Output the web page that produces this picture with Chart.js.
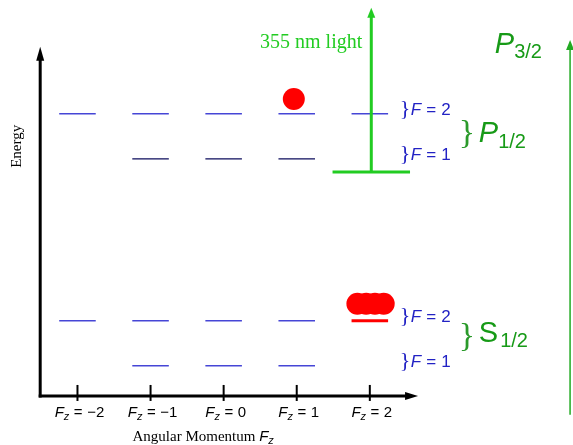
<!DOCTYPE html>
<html>
<head>
<meta charset="utf-8">
<script src="https://cdn.jsdelivr.net/npm/chart.js@4"></script>
<style>
  html, body { margin: 0; padding: 0; background: #fff; }
  canvas { display: block; }
</style>
</head>
<body>
<canvas id="chart" width="573" height="445"></canvas>
<script>
// angular momentum projections and their tick labels
const fzValues = [-2, -1, 0, 1, 2];
const tickLabels = ['\u22122', '\u22121', '0', '1', '2'];

// energies of the hyperfine levels (arbitrary units)
const energyP_F2 = 6.6;
const energyP_F1 = 5.6;
const energyS_F2 = 2.0;
const energyS_F1 = 1.0;

// which Fz sublevels get drawn for each level
const fzP_F2 = [-2, -1, 0, 1, 2];
const fzP_F1 = [-1, 0, 1];
const fzS_F2 = [-2, -1, 0, 1];
const fzS_F2_dark = [2];
const fzS_F1 = [-1, 0, 1];

// atoms: one excited, a pile sitting in the dark state
const atomsExcited = [{x: 0.96, y: 6.93}];
const atomsGround = [
  {x: 1.83, y: 2.38}, {x: 1.95, y: 2.38}, {x: 2.07, y: 2.38}, {x: 2.19, y: 2.38}
];

// 355 nm laser
const laserFz = 2.02;
const laserFrom = 5.31;
const laserTo = 8.96;
const laserBarHalf = 0.53;

// axes
const axisOrigin = {x: -2.51, y: 0.33};
const axisXEnd = 2.66;
const axisYEnd = 8.09;

// long arrow up to P3/2
const p32Fz = 4.74;
const p32From = -0.09;
const p32To = 8.24;

const halfWidth = 0.25;
const blue = '#4646d6';
const navy = '#0c0c5c';
const textBlue = '#2222c4';
const termGreen = '#179a17';
const laserGreen = '#22cc22';

function segments(fzList, energy) {
  const pts = [];
  fzList.forEach(fz => {
    pts.push({x: fz - halfWidth, y: energy}, {x: fz + halfWidth, y: energy}, {x: fz, y: null});
  });
  return pts;
}

function levelSet(fzList, energy, color, width) {
  return {
    data: segments(fzList, energy),
    showLine: true, spanGaps: false,
    borderColor: color, borderWidth: width,
    pointRadius: 0, borderCapStyle: 'butt'
  };
}

function arrowHead(ctx, tx, ty, dx, dy, len, wid, color) {
  const bx = tx - dx * len, by = ty - dy * len;
  const nx = -dy, ny = dx;
  ctx.fillStyle = color;
  ctx.beginPath();
  ctx.moveTo(tx, ty);
  ctx.lineTo(bx + nx * wid / 2, by + ny * wid / 2);
  ctx.lineTo(bx - nx * wid / 2, by - ny * wid / 2);
  ctx.closePath();
  ctx.fill();
}

function line(ctx, x1, y1, x2, y2, color, w, cap) {
  ctx.strokeStyle = color;
  ctx.lineWidth = w;
  ctx.lineCap = cap || 'butt';
  ctx.beginPath();
  ctx.moveTo(x1, y1);
  ctx.lineTo(x2, y2);
  ctx.stroke();
}

function drawRuns(ctx, x, y, runs, align) {
  let total = 0;
  runs.forEach(r => {
    ctx.font = r.font;
    r.w = ctx.measureText(r.t).width;
    total += (r.pre || 0) + r.w + (r.post || 0);
  });
  let cx = align === 'center' ? x - total / 2 : align === 'right' ? x - total : x;
  runs.forEach(r => {
    cx += r.pre || 0;
    ctx.font = r.font;
    ctx.fillStyle = r.color;
    ctx.fillText(r.t, cx, y + (r.dy || 0));
    cx += r.w + (r.post || 0);
  });
}

const sans = '"Liberation Sans", Arial, sans-serif';
const serif = '"Liberation Serif", "Times New Roman", serif';

function mathF(size, color, withSub, val) {
  const runs = [{t: 'F', font: `italic ${size}px ${sans}`, color}];
  if (withSub) runs.push({t: 'z', font: `italic ${Math.round(size * 0.72)}px ${sans}`, color, dy: size * 0.22});
  runs.push({t: '=', font: `${size}px ${sans}`, color, pre: size * 0.3, post: size * 0.3});
  runs.push({t: val, font: `${size}px ${sans}`, color});
  return runs;
}

function term(letter, sub, size, color, style) {
  return [
    {t: letter, font: `${style} ${size}px ${sans}`, color, post: style === 'italic' ? 0 : 2},
    {t: sub, font: `${Math.round(size * 0.7)}px ${sans}`, color, dy: size * 0.18}
  ];
}

const diagram = {
  id: 'diagram',
  afterDatasetsDraw(chart) {
    const ctx = chart.ctx;
    const px = v => chart.scales.x.getPixelForValue(v);
    const py = v => chart.scales.y.getPixelForValue(v);
    ctx.save();
    ctx.textBaseline = 'alphabetic';
    ctx.textAlign = 'left';

    // axes with arrows
    const ox = px(axisOrigin.x), oy = py(axisOrigin.y);
    line(ctx, ox, oy + 1.5, ox, py(axisYEnd) + 12, '#000', 3);
    arrowHead(ctx, ox, py(axisYEnd), 0, -1, 14, 8, '#000');
    line(ctx, ox - 1.5, oy, px(axisXEnd) - 11, oy, '#000', 3);
    arrowHead(ctx, px(axisXEnd), oy, 1, 0, 13, 8, '#000');

    // ticks and labels
    fzValues.forEach((fz, i) => {
      const x = px(fz);
      line(ctx, x, oy - 11, x, oy + 5, '#000', 2);
      drawRuns(ctx, x + 2, oy + 21, mathF(15, '#000', true, tickLabels[i]), 'center');
    });

    // axis titles
    drawRuns(ctx, px(axisOrigin.x) + 163, oy + 45, [
      {t: 'Angular Momentum ', font: `15px ${serif}`, color: '#000'},
      {t: 'F', font: `italic 15px ${sans}`, color: '#000'},
      {t: 'z', font: `italic 11px ${sans}`, color: '#000', dy: 3}
    ], 'center');
    ctx.save();
    ctx.translate(px(axisOrigin.x) - 19, py((energyP_F1 + energyP_F2) / 2) + 10);
    ctx.rotate(-Math.PI / 2);
    ctx.font = `15px ${serif}`;
    ctx.fillStyle = '#000';
    ctx.textAlign = 'center';
    ctx.fillText('Energy', 0, 0);
    ctx.restore();

    // laser line with its base bar
    const lx = px(laserFz);
    line(ctx, px(laserFz - laserBarHalf), py(laserFrom), px(laserFz + laserBarHalf), py(laserFrom), laserGreen, 3);
    line(ctx, lx, py(laserFrom), lx, py(laserTo) + 9, laserGreen, 3);
    arrowHead(ctx, lx, py(laserTo), 0, -1, 10, 8, laserGreen);
    ctx.font = `20px ${serif}`;
    ctx.fillStyle = laserGreen;
    ctx.textAlign = 'right';
    ctx.fillText('355 nm light', lx - 9, py(laserTo) + 40);
    ctx.textAlign = 'left';

    // long arrow to P3/2
    const ax = px(p32Fz);
    line(ctx, ax, py(p32From), ax, py(p32To) + 8, '#22aa22', 1.5);
    arrowHead(ctx, ax, py(p32To), 0, -1, 10, 8, '#22aa22');

    // hyperfine labels with braces
    const labelX = px(2) + 30;
    [[energyP_F2, '2'], [energyP_F1, '1'], [energyS_F2, '2'], [energyS_F1, '1']].forEach(([e, f]) => {
      const y = py(e);
      ctx.font = `22px ${serif}`;
      ctx.fillStyle = textBlue;
      ctx.fillText('}', labelX, y + 1);
      drawRuns(ctx, labelX + 11, y + 1, mathF(17, textBlue, false, f), 'left');
    });

    // fine structure terms
    const braceX = labelX + 59;
    [[energyP_F2, energyP_F1, 'P', 7, 6, 'italic'], [energyS_F2, energyS_F1, 'S', 3, -1.5, 'normal']].forEach(([e2, e1, letter, bOff, tOff, style]) => {
      const mid = (py(e2) + py(e1)) / 2;
      ctx.font = `34px ${serif}`;
      ctx.fillStyle = '#2a9a2a';
      ctx.fillText('}', braceX, mid + bOff);
      drawRuns(ctx, braceX + 20, mid + tOff, term(letter, '1/2', 29, termGreen, style), 'left');
    });
    drawRuns(ctx, braceX + 36, py(p32To) + 13, term('P', '3/2', 29, termGreen, 'italic'), 'left');

    ctx.restore();
  }
};

new Chart(document.getElementById('chart'), {
  type: 'scatter',
  data: {
    datasets: [
      levelSet(fzP_F2, energyP_F2, blue, 1.5),
      levelSet(fzP_F1, energyP_F1, navy, 1.2),
      levelSet(fzS_F2, energyS_F2, blue, 1.5),
      levelSet(fzS_F2_dark, energyS_F2, '#ff0000', 3),
      levelSet(fzS_F1, energyS_F1, blue, 1.5),
      {data: atomsExcited, pointRadius: 11, backgroundColor: '#ff0000', borderWidth: 0, showLine: false},
      {data: atomsGround, pointRadius: 11, backgroundColor: '#ff0000', borderWidth: 0, showLine: false}
    ]
  },
  options: {
    responsive: false,
    animation: false,
    devicePixelRatio: 1,
    events: [],
    layout: {padding: 0, autoPadding: false},
    plugins: {legend: {display: false}, tooltip: {enabled: false}},
    scales: {
      x: {type: 'linear', min: -3.06, max: 4.78, display: false},
      y: {type: 'linear', min: -0.76, max: 9.13, display: false}
    }
  },
  plugins: [diagram]
});
</script>
</body>
</html>
